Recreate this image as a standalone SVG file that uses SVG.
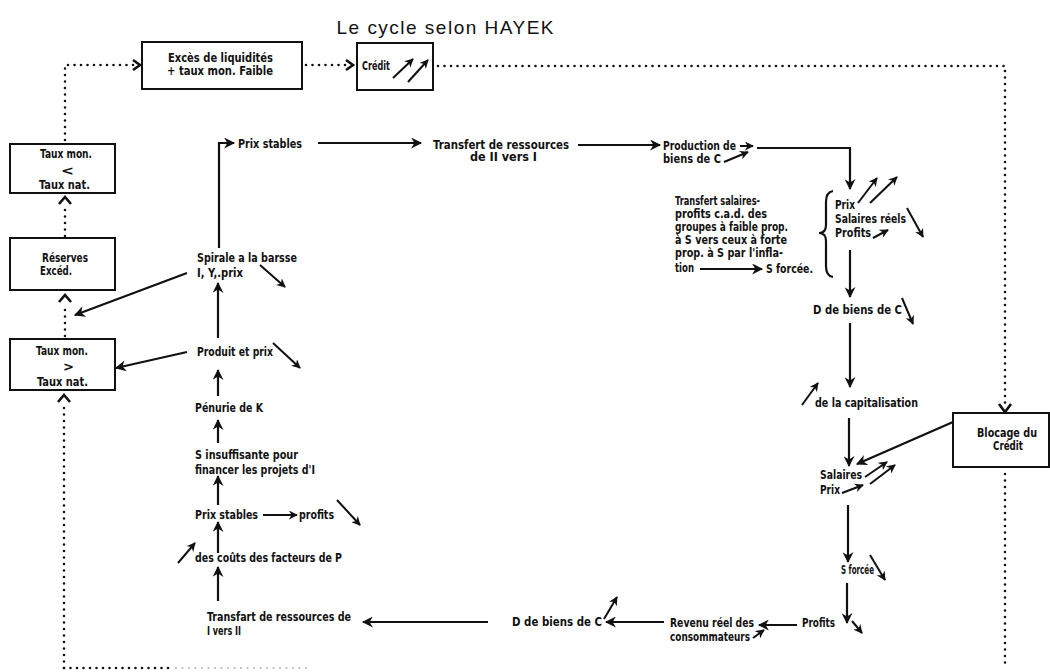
<svg xmlns="http://www.w3.org/2000/svg" width="1050" height="672" viewBox="0 0 1050 672">
<style>
.t{font-family:"DejaVu Sans Condensed","DejaVu Sans","Liberation Sans",sans-serif;font-weight:bold;font-size:12px;fill:#111}
.big{font-family:"DejaVu Sans","Liberation Sans",sans-serif;font-weight:bold;font-size:13px;fill:#111}
.box{fill:#fff;stroke:#111;stroke-width:2}
.ln{fill:none;stroke:#111;stroke-width:2.2}
.sm{fill:none;stroke:#111;stroke-width:2}
.dot{fill:none;stroke:#111;stroke-width:2.6;stroke-dasharray:0 6.5;stroke-linecap:round}
.dotg{fill:none;stroke:#bbb;stroke-width:2.2;stroke-dasharray:0 6.5;stroke-linecap:round}
.chev{fill:none;stroke:#111;stroke-width:2.6;stroke-linejoin:miter}
</style>
<defs>
<marker id="ah" viewBox="0 0 10 10" refX="9" refY="5" markerWidth="12" markerHeight="11" markerUnits="userSpaceOnUse" orient="auto"><path d="M0,0 L10,5 L0,10 L3,5 z" fill="#111"/></marker>
<marker id="as" viewBox="0 0 10 10" refX="9" refY="5" markerWidth="9" markerHeight="9" markerUnits="userSpaceOnUse" orient="auto"><path d="M0,0 L10,5 L0,10 L3,5 z" fill="#111"/></marker>
</defs>
<rect width="1050" height="672" fill="#fff"/>
<text x="445" y="34" text-anchor="middle" font-family="Liberation Sans, Arial, sans-serif" font-size="19" fill="#111" textLength="217">Le cycle selon HAYEK</text>

<g id="connectors">
<path class="dot" d="M65,140 V65 H134"/>
<polyline class="chev" points="133,60 140,65 133,70"/>
<path class="dot" d="M306,65 H346"/>
<polyline class="chev" points="346,60 353,65 346,70"/>
<path class="dot" d="M438,66 H1005 V403"/>
<polyline class="chev" points="999,404 1005,412 1011,404"/>
<path class="dot" d="M1005,474 V668"/>
<path class="dot" d="M65,236 V207"/>
<polyline class="chev" points="59,204 65,197 71,204"/>
<path class="dot" d="M65,336 V305"/>
<polyline class="chev" points="59,302 65,295 71,302"/>
<path class="dot" d="M64,668 V405"/>
<polyline class="chev" points="58,402 64,395 70,402"/>
<path class="dot" d="M64,668 H170"/>
<path class="dotg" d="M176,668 H310"/>
<path class="ln" d="M219,248 V143 H234" marker-end="url(#ah)"/>
<line class="ln" x1="318" y1="143" x2="421" y2="143" marker-end="url(#ah)"/>
<line class="ln" x1="578" y1="145" x2="660" y2="145" marker-end="url(#ah)"/>
<line class="ln" x1="218" y1="338" x2="218" y2="283" marker-end="url(#ah)"/>
<line class="ln" x1="187" y1="273" x2="75" y2="315" marker-end="url(#ah)"/>
<line class="ln" x1="187" y1="352" x2="116" y2="368" marker-end="url(#ah)"/>
<line class="ln" x1="218" y1="396" x2="218" y2="370" marker-end="url(#ah)"/>
<line class="ln" x1="218" y1="443" x2="218" y2="420" marker-end="url(#ah)"/>
<line class="ln" x1="218" y1="505" x2="218" y2="476" marker-end="url(#ah)"/>
<line class="ln" x1="218" y1="553" x2="218" y2="522" marker-end="url(#ah)"/>
<line class="ln" x1="218" y1="601" x2="218" y2="567" marker-end="url(#ah)"/>
<line class="ln" x1="263" y1="515" x2="297" y2="515" marker-end="url(#as)"/>
<line class="sm" x1="260" y1="265" x2="285" y2="287" marker-end="url(#as)"/>
<line class="sm" x1="273" y1="343" x2="300" y2="368" marker-end="url(#as)"/>
<line class="sm" x1="337" y1="500" x2="360" y2="525" marker-end="url(#as)"/>
<line class="sm" x1="178" y1="563" x2="195" y2="543" marker-end="url(#as)"/>
<line class="sm" x1="740" y1="146" x2="753" y2="146" marker-end="url(#as)"/>
<line class="sm" x1="724" y1="162" x2="748" y2="152" marker-end="url(#as)"/>
<path class="ln" d="M757,148 H850 V189" marker-end="url(#ah)"/>
<line class="sm" x1="858" y1="203" x2="877" y2="178" marker-end="url(#as)"/>
<line class="sm" x1="870" y1="203" x2="897" y2="177" marker-end="url(#as)"/>
<line class="sm" x1="907" y1="208" x2="923" y2="237" marker-end="url(#as)"/>
<line class="sm" x1="873" y1="238" x2="888" y2="230" marker-end="url(#as)"/>
<path class="ln" d="M833,191 Q826,192 826,202 L826,225 Q826,233 819,233 Q826,233 826,241 L826,266 Q826,276 833,277"/>
<line class="ln" x1="700" y1="269" x2="762" y2="269" marker-end="url(#ah)"/>
<line class="ln" x1="850" y1="250" x2="850" y2="297" marker-end="url(#ah)"/>
<line class="sm" x1="902" y1="298" x2="913" y2="324" marker-end="url(#as)"/>
<line class="ln" x1="850" y1="323" x2="850" y2="387" marker-end="url(#ah)"/>
<line class="sm" x1="802" y1="405" x2="818" y2="383" marker-end="url(#as)"/>
<line class="ln" x1="849" y1="418" x2="849" y2="466" marker-end="url(#ah)"/>
<line class="ln" x1="953" y1="422" x2="857" y2="464" marker-end="url(#ah)"/>
<line class="sm" x1="865" y1="477" x2="887" y2="462" marker-end="url(#as)"/>
<line class="sm" x1="870" y1="484" x2="895" y2="465" marker-end="url(#as)"/>
<line class="sm" x1="842" y1="493" x2="863" y2="485" marker-end="url(#as)"/>
<line class="ln" x1="848" y1="505" x2="848" y2="562" marker-end="url(#ah)"/>
<line class="sm" x1="870" y1="555" x2="885" y2="580" marker-end="url(#as)"/>
<line class="ln" x1="847" y1="583" x2="847" y2="623" marker-end="url(#ah)"/>
<line class="sm" x1="852" y1="621" x2="862" y2="633" marker-end="url(#as)"/>
<line class="ln" x1="797" y1="625" x2="759" y2="625" marker-end="url(#ah)"/>
<line class="sm" x1="753" y1="638" x2="764" y2="630" marker-end="url(#as)"/>
<line class="ln" x1="664" y1="622" x2="606" y2="622" marker-end="url(#ah)"/>
<line class="sm" x1="604" y1="619" x2="617" y2="597" marker-end="url(#as)"/>
<line class="ln" x1="488" y1="622" x2="363" y2="622" marker-end="url(#ah)"/>
</g>

<g id="n-exces"><rect class="box" x="142" y="42" width="160" height="47"/>
<text class="t" x="168" y="62" textLength="105" lengthAdjust="spacingAndGlyphs">Excès de liquidités</text>
<text class="t" x="167" y="75" textLength="106" lengthAdjust="spacingAndGlyphs">+ taux mon. Faible</text></g>
<g id="n-credit"><rect class="box" x="357" y="43" width="76" height="47"/>
<text class="t" x="362" y="70" textLength="28" lengthAdjust="spacingAndGlyphs">Crédit</text>
<line class="sm" x1="393" y1="78" x2="413" y2="59" marker-end="url(#as)"/>
<line class="sm" x1="408" y1="82" x2="428" y2="60" marker-end="url(#as)"/></g>
<g id="n-taux-inf"><rect class="box" x="10" y="144" width="105" height="49"/>
<text class="t" x="40" y="158" textLength="52" lengthAdjust="spacingAndGlyphs">Taux mon.</text>
<text class="big" x="61" y="175" textLength="13" lengthAdjust="spacingAndGlyphs">&lt;</text>
<text class="t" x="39" y="189" textLength="51" lengthAdjust="spacingAndGlyphs">Taux nat.</text></g>
<g id="n-reserves"><rect class="box" x="10" y="238" width="105" height="52"/>
<text class="t" x="42" y="262" textLength="46" lengthAdjust="spacingAndGlyphs">Réserves</text>
<text class="t" x="40" y="275" textLength="32" lengthAdjust="spacingAndGlyphs">Excéd.</text></g>
<g id="n-taux-sup"><rect class="box" x="10" y="339" width="105" height="51"/>
<text class="t" x="36" y="355" textLength="52" lengthAdjust="spacingAndGlyphs">Taux mon.</text>
<text class="big" x="63" y="371" textLength="11" lengthAdjust="spacingAndGlyphs">&gt;</text>
<text class="t" x="37" y="386" textLength="51" lengthAdjust="spacingAndGlyphs">Taux nat.</text></g>
<g id="n-blocage"><rect class="box" x="953" y="413" width="96" height="54"/>
<text class="t" x="977" y="437" textLength="60" lengthAdjust="spacingAndGlyphs">Blocage du</text>
<text class="t" x="993" y="450" textLength="30" lengthAdjust="spacingAndGlyphs">Crédit</text></g>

<g id="n-prix-stables-top"><text class="t" x="238" y="148" textLength="64" lengthAdjust="spacingAndGlyphs">Prix stables</text></g>
<g id="n-transfert-top"><text class="t" x="433" y="149" textLength="136" lengthAdjust="spacingAndGlyphs">Transfert de ressources</text>
<text class="t" x="470" y="161" textLength="67" lengthAdjust="spacingAndGlyphs">de II vers I</text></g>
<g id="n-production"><text class="t" x="663" y="150" textLength="73" lengthAdjust="spacingAndGlyphs">Production de</text>
<text class="t" x="663" y="163" textLength="58" lengthAdjust="spacingAndGlyphs">biens de C</text></g>
<g id="n-transfert-salaires">
<text class="t" x="675" y="205" textLength="85" lengthAdjust="spacingAndGlyphs">Transfert salaires-</text>
<text class="t" x="675" y="218" textLength="92" lengthAdjust="spacingAndGlyphs">profits c.a.d. des</text>
<text class="t" x="675" y="231" textLength="113" lengthAdjust="spacingAndGlyphs">groupes à faible prop.</text>
<text class="t" x="675" y="244" textLength="112" lengthAdjust="spacingAndGlyphs">à S vers ceux à forte</text>
<text class="t" x="675" y="257" textLength="108" lengthAdjust="spacingAndGlyphs">prop. à S par l'infla-</text>
<text class="t" x="675" y="272" textLength="19" lengthAdjust="spacingAndGlyphs">tion</text>
<text class="t" x="766" y="273" textLength="47" lengthAdjust="spacingAndGlyphs">S forcée.</text></g>
<g id="n-prix-salaires-profits">
<text class="t" x="835" y="209" textLength="20" lengthAdjust="spacingAndGlyphs">Prix</text>
<text class="t" x="835" y="223" textLength="71" lengthAdjust="spacingAndGlyphs">Salaires réels</text>
<text class="t" x="835" y="237" textLength="36" lengthAdjust="spacingAndGlyphs">Profits</text></g>
<g id="n-demande-c"><text class="t" x="813" y="314" textLength="89" lengthAdjust="spacingAndGlyphs">D de biens de C</text></g>
<g id="n-capitalisation"><text class="t" x="815" y="407" textLength="103" lengthAdjust="spacingAndGlyphs">de la capitalisation</text></g>
<g id="n-salaires-prix"><text class="t" x="820" y="479" textLength="42" lengthAdjust="spacingAndGlyphs">Salaires</text>
<text class="t" x="820" y="494" textLength="20" lengthAdjust="spacingAndGlyphs">Prix</text></g>
<g id="n-s-forcee"><text class="t" x="841" y="574" textLength="33" lengthAdjust="spacingAndGlyphs">S forcée</text></g>
<g id="n-profits"><text class="t" x="802" y="627" textLength="33" lengthAdjust="spacingAndGlyphs">Profits</text></g>
<g id="n-revenu"><text class="t" x="670" y="627" textLength="84" lengthAdjust="spacingAndGlyphs">Revenu réel des</text>
<text class="t" x="670" y="641" textLength="80" lengthAdjust="spacingAndGlyphs">consommateurs</text></g>
<g id="n-demande-c-bas"><text class="t" x="512" y="626" textLength="90" lengthAdjust="spacingAndGlyphs">D de biens de C</text></g>
<g id="n-transfart-bas"><text class="t" x="207" y="621" textLength="144" lengthAdjust="spacingAndGlyphs">Transfart de ressources de</text>
<text class="t" x="207" y="635" textLength="34" lengthAdjust="spacingAndGlyphs">I vers II</text></g>
<g id="n-spirale"><text class="t" x="197" y="262" textLength="100" lengthAdjust="spacingAndGlyphs">Spirale a la barsse</text>
<text class="t" x="197" y="277" textLength="46" lengthAdjust="spacingAndGlyphs">I, Y,.prix</text></g>
<g id="n-produit"><text class="t" x="197" y="356" textLength="76" lengthAdjust="spacingAndGlyphs">Produit et prix</text></g>
<g id="n-penurie"><text class="t" x="195" y="412" textLength="68" lengthAdjust="spacingAndGlyphs">Pénurie de K</text></g>
<g id="n-s-insuff"><text class="t" x="195" y="459" textLength="103" lengthAdjust="spacingAndGlyphs">S insuffisante pour</text>
<text class="t" x="195" y="474" textLength="120" lengthAdjust="spacingAndGlyphs">financer les projets d'I</text></g>
<g id="n-prix-stables-bas"><text class="t" x="195" y="519" textLength="63" lengthAdjust="spacingAndGlyphs">Prix stables</text>
<text class="t" x="299" y="519" textLength="35" lengthAdjust="spacingAndGlyphs">profits</text></g>
<g id="n-couts"><text class="t" x="195" y="562" textLength="147" lengthAdjust="spacingAndGlyphs">des coûts des facteurs de P</text></g>
</svg>
